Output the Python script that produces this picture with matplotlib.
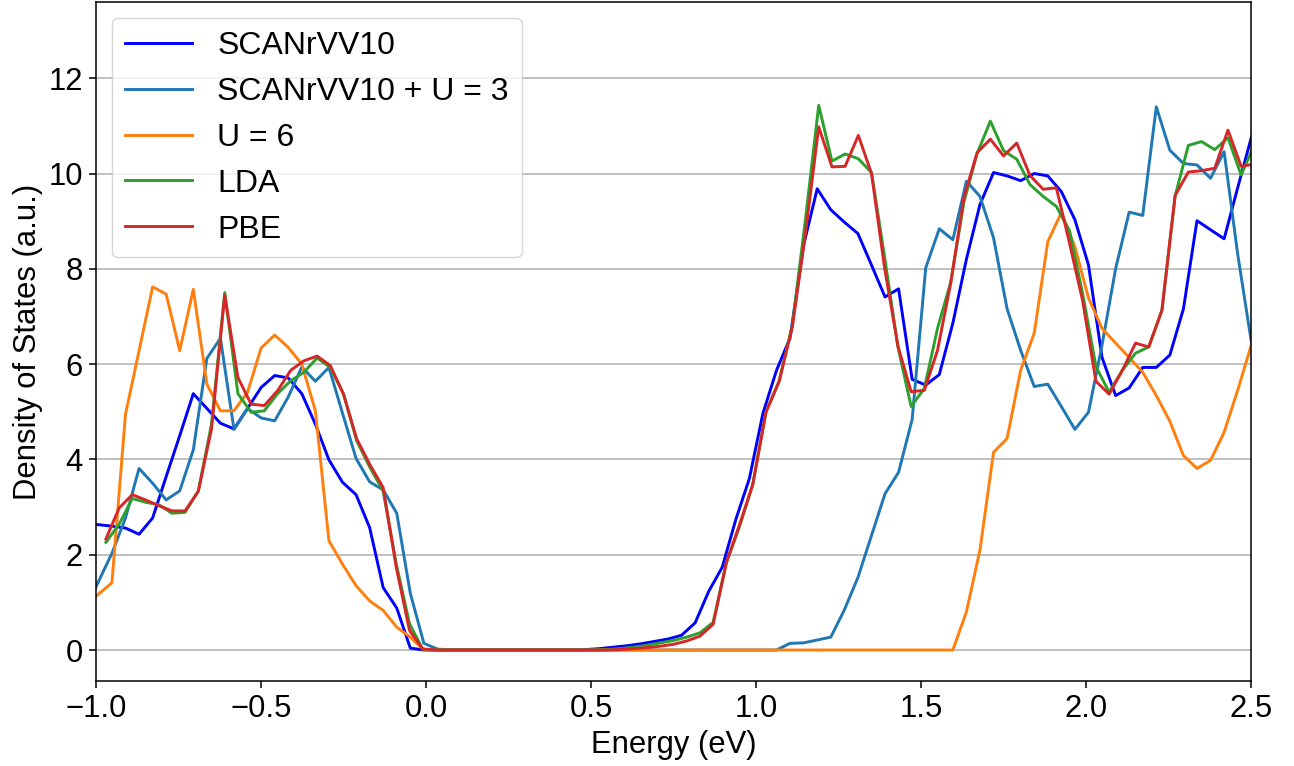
import matplotlib.pyplot as plt
import numpy as np

plt.rcParams['font.family'] = ['Liberation Sans', 'DejaVu Sans']

# energy grids (eV, relative to the Fermi level)
energy = np.round(-1.034 + 0.0411 * np.arange(88), 4)      # SCANrVV10 runs
energy_gga = np.round(-0.970 + 0.040 * np.arange(88), 3)   # LDA / PBE runs

dos_scan = [2.66, 2.63, 2.60, 2.56, 2.43, 2.77, 3.64, 4.50, 5.38, 5.07,
            4.76, 4.64, 5.07, 5.51, 5.76, 5.71, 5.38, 4.74, 3.99, 3.52,
            3.26, 2.57, 1.31, 0.88, 0.04, 0.0] + [0.0] * 11 + \
           [0.01, 0.03, 0.06, 0.09, 0.13, 0.18, 0.23, 0.31, 0.57, 1.23,
            1.74, 2.74, 3.60, 4.97, 5.87, 6.55, 8.50, 9.68, 9.24, 8.98,
            8.74, 8.08, 7.41, 7.58, 5.68, 5.56, 5.78, 6.86, 8.20, 9.35,
            10.02, 9.95, 9.85, 10.00, 9.95, 9.62, 9.03, 8.08, 6.14, 5.34,
            5.50, 5.93, 5.93, 6.19, 7.16, 9.01, 8.82, 8.63, 9.70, 10.75,
            11.60]

dos_scan_u3 = [0.85, 1.43, 2.03, 2.77, 3.81, 3.50, 3.15, 3.34, 4.20, 6.12,
               6.54, 4.63, 5.07, 4.87, 4.81, 5.31, 5.94, 5.64, 5.93, 4.97,
               4.02, 3.53, 3.36, 2.87, 1.19, 0.14, 0.02] + [0.0] * 25 + \
              [0.14, 0.15, 0.21, 0.27, 0.84, 1.52, 2.40, 3.28, 3.73, 4.84,
               8.02, 8.84, 8.61, 9.84, 9.52, 8.65, 7.16, 6.29, 5.53, 5.58,
               5.11, 4.63, 4.99, 6.40, 8.00, 9.19, 9.12, 11.40, 10.49, 10.21,
               10.18, 9.90, 10.46, 8.31, 6.48, 5.20]

dos_u6 = [0.95, 1.17, 1.41, 4.95, 6.28, 7.62, 7.47, 6.28, 7.57, 5.58,
          5.02, 5.02, 5.41, 6.34, 6.61, 6.35, 6.00, 5.02, 2.29, 1.80,
          1.35, 1.03, 0.83, 0.48, 0.27, 0.0] + [0.0] * 39 + \
         [0.80, 2.10, 4.15, 4.44, 5.87, 6.65, 8.57, 9.18, 8.46, 7.39,
          6.75, 6.44, 6.14, 5.83, 5.34, 4.80, 4.08, 3.81, 3.98, 4.57,
          5.45, 6.40, 7.30]

dos_lda = [2.26, 2.64, 3.18, 3.10, 3.05, 2.87, 2.89, 3.34, 4.74, 7.50,
           5.38, 4.99, 5.02, 5.38, 5.65, 5.83, 6.13, 5.93, 5.37, 4.39,
           3.83, 3.34, 1.80, 0.55, 0.02] + [0.0] * 13 + \
          [0.01, 0.03, 0.06, 0.10, 0.15, 0.20, 0.27, 0.36, 0.58, 1.83,
           2.59, 3.47, 4.99, 5.64, 6.82, 9.05, 11.43, 10.26, 10.41, 10.31,
           10.02, 8.23, 6.36, 5.11, 5.49, 6.75, 7.72, 9.40, 10.42, 11.10,
           10.48, 10.30, 9.77, 9.52, 9.31, 8.80, 7.47, 5.95, 5.41, 5.87,
           6.23, 6.36, 7.13, 9.53, 10.59, 10.67, 10.50, 10.75, 9.97, 10.60]

dos_pbe = [2.33, 2.98, 3.26, 3.15, 3.03, 2.92, 2.92, 3.33, 4.64, 7.45,
           5.72, 5.16, 5.13, 5.44, 5.87, 6.07, 6.17, 5.97, 5.37, 4.43,
           3.89, 3.41, 1.73, 0.41, 0.02] + [0.0] * 14 + \
          [0.01, 0.03, 0.05, 0.08, 0.12, 0.19, 0.29, 0.54, 1.83, 2.63,
           3.47, 4.99, 5.64, 6.78, 8.75, 10.98, 10.14, 10.15, 10.80, 10.00,
           8.00, 6.38, 5.42, 5.45, 6.29, 7.70, 9.50, 10.44, 10.72, 10.37,
           10.64, 9.96, 9.67, 9.70, 8.54, 7.32, 5.64, 5.37, 5.87, 6.44,
           6.36, 7.13, 9.54, 10.03, 10.06, 10.11, 10.91, 10.15, 10.20]

fs = 22.3
lw = 2.1

fig = plt.figure(figsize=(12.94, 7.66), dpi=100)
ax = fig.add_axes([0.0742, 0.111, 0.8926, 0.8864])

ax.plot(energy, dos_scan, color='blue', lw=lw, label='SCANrVV10')
ax.plot(energy, dos_scan_u3, color='tab:blue', lw=lw, label='SCANrVV10 + U = 3')
ax.plot(energy, dos_u6, color='tab:orange', lw=lw, label='U = 6')
ax.plot(energy_gga, dos_lda, color='tab:green', lw=lw, label='LDA')
ax.plot(energy_gga, dos_pbe, color='tab:red', lw=lw, label='PBE')

ax.set_xlim(-1.0, 2.5)
ax.set_ylim(-0.65, 13.6)
ax.set_yticks(np.arange(0, 13, 2))
ax.yaxis.grid(True, color='#b0b0b0', lw=1.1)
ax.set_axisbelow(True)

for s in ax.spines.values():
    s.set_linewidth(1.1)
ax.tick_params(labelsize=fs, width=1.1, length=4.7, pad=4.7)

ax.set_xlabel('Energy (eV)', fontsize=fs)
ax.set_ylabel('Density of States (a.u.)', fontsize=fs)
ax.legend(loc='upper left', fontsize=23, handlelength=2.1)

fig.savefig('out.png', dpi=100)
